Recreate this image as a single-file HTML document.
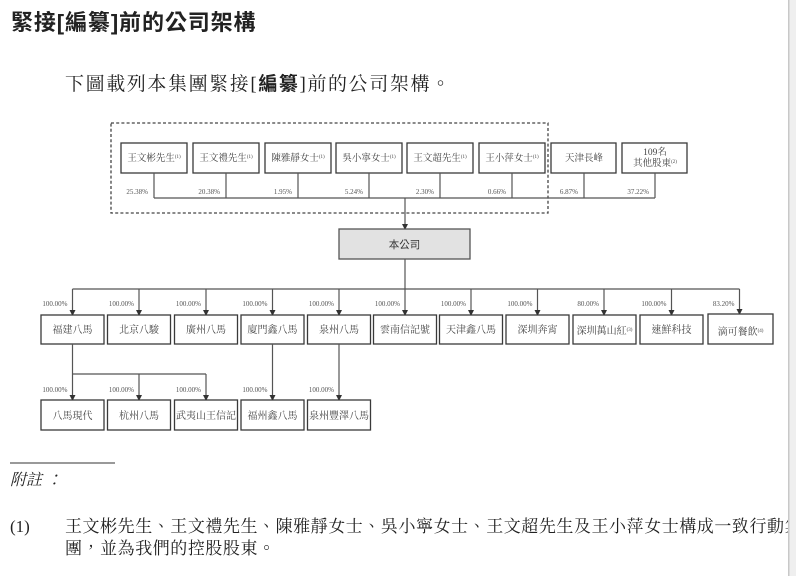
<!DOCTYPE html>
<html lang="zh-Hant"><head><meta charset="utf-8"><style>
html,body{margin:0;padding:0;background:#fff;}
svg{display:block;}
.bx{fill:#fff;stroke:#3a3a3a;stroke-width:1.3;}
.ln{stroke:#555;stroke-width:1.2;fill:none;}
.t{font-family:"Liberation Serif","Noto Serif CJK SC",serif;font-size:9.5px;fill:#444;text-anchor:middle;}
.t2{font-family:"Liberation Serif","Noto Serif CJK SC",serif;font-size:10px;fill:#444;text-anchor:middle;}
.p{font-family:"Liberation Serif",serif;font-size:7px;fill:#555;text-anchor:end;}
.s{font-size:5px;}
</style></head><body>
<svg width="796" height="576" viewBox="0 0 796 576" xmlns="http://www.w3.org/2000/svg">
<defs>
<marker id="ar" markerWidth="6" markerHeight="6" refX="5" refY="3" orient="auto" markerUnits="userSpaceOnUse">
<path d="M0,0 L6,3 L0,6 z" fill="#333"/>
</marker>
</defs>
<rect width="796" height="576" fill="#fff"/>

<!-- title -->
<text x="11" y="30" font-family="Liberation Sans,'Noto Sans CJK TC',sans-serif" font-weight="bold" font-size="22" letter-spacing="0.9" fill="#222">緊接[編纂]前的公司架構</text>
<text x="65" y="90" font-family="Liberation Serif,'Noto Serif CJK SC',serif" font-size="19" letter-spacing="1.6" fill="#222">下圖載列本集團緊接[<tspan font-weight="bold" font-family="Liberation Sans,'Noto Sans CJK TC',sans-serif">編纂</tspan>]前的公司架構。</text>

<!-- dashed group -->
<rect x="111" y="123" width="437" height="90" fill="none" stroke="#444" stroke-width="1.3" stroke-dasharray="3,2.2"/>

<!-- row 1 boxes -->
<rect class="bx" x="121" y="143" width="66" height="30"/>
<rect class="bx" x="193" y="143" width="66" height="30"/>
<rect class="bx" x="265" y="143" width="66" height="30"/>
<rect class="bx" x="336" y="143" width="66" height="30"/>
<rect class="bx" x="407" y="143" width="66" height="30"/>
<rect class="bx" x="479" y="143" width="66" height="30"/>
<rect class="bx" x="551" y="143" width="65" height="30"/>
<rect class="bx" x="622" y="143" width="65" height="30"/>
<text class="t" x="154" y="161">王文彬先生<tspan class="s" dy="-3">(1)</tspan></text>
<text class="t" x="226" y="161">王文禮先生<tspan class="s" dy="-3">(1)</tspan></text>
<text class="t" x="298" y="161">陳雅靜女士<tspan class="s" dy="-3">(1)</tspan></text>
<text class="t" x="369" y="161">吳小寧女士<tspan class="s" dy="-3">(1)</tspan></text>
<text class="t" x="440" y="161">王文超先生<tspan class="s" dy="-3">(1)</tspan></text>
<text class="t" x="512" y="161">王小萍女士<tspan class="s" dy="-3">(1)</tspan></text>
<text class="t" x="584" y="161">天津長峰</text>
<text class="t" x="655" y="155">109名</text>
<text class="t" x="655" y="166">其他股東<tspan class="s" dy="-3">(2)</tspan></text>

<!-- row1 connectors -->
<path class="ln" d="M154,173V198 M226,173V198 M298,173V198 M369,173V198 M440,173V198 M512,173V198 M584,173V198 M655,173V198 M154,198H655"/>
<text class="p" x="148" y="194">25.38%</text>
<text class="p" x="220" y="194">20.38%</text>
<text class="p" x="292" y="194">1.95%</text>
<text class="p" x="363" y="194">5.24%</text>
<text class="p" x="434" y="194">2.30%</text>
<text class="p" x="506" y="194">0.66%</text>
<text class="p" x="578" y="194">6.87%</text>
<text class="p" x="649" y="194">37.22%</text>

<line class="ln" x1="405" y1="198" x2="405" y2="229" marker-end="url(#ar)"/>

<!-- company -->
<rect x="339" y="229" width="131" height="30" fill="#e2e2e2" stroke="#555" stroke-width="1.3"/>
<text x="404.5" y="248" text-anchor="middle" font-family="Liberation Sans,'Noto Sans CJK TC',sans-serif" font-size="10.5" fill="#333">本公司</text>

<path class="ln" d="M405,259V289 M72.5,289H739.5"/>
<g class="ln">
<line x1="72.5" y1="289" x2="72.5" y2="315" marker-end="url(#ar)"/>
<line x1="139" y1="289" x2="139" y2="315" marker-end="url(#ar)"/>
<line x1="206" y1="289" x2="206" y2="315" marker-end="url(#ar)"/>
<line x1="272.5" y1="289" x2="272.5" y2="315" marker-end="url(#ar)"/>
<line x1="339" y1="289" x2="339" y2="315" marker-end="url(#ar)"/>
<line x1="405" y1="289" x2="405" y2="315" marker-end="url(#ar)"/>
<line x1="471" y1="289" x2="471" y2="315" marker-end="url(#ar)"/>
<line x1="537.5" y1="289" x2="537.5" y2="315" marker-end="url(#ar)"/>
<line x1="604" y1="289" x2="604" y2="315" marker-end="url(#ar)"/>
<line x1="671.5" y1="289" x2="671.5" y2="315" marker-end="url(#ar)"/>
<line x1="739.5" y1="289" x2="739.5" y2="314" marker-end="url(#ar)"/>
</g>
<text class="p" x="67.5" y="306">100.00%</text>
<text class="p" x="134" y="306">100.00%</text>
<text class="p" x="201" y="306">100.00%</text>
<text class="p" x="267.5" y="306">100.00%</text>
<text class="p" x="334" y="306">100.00%</text>
<text class="p" x="400" y="306">100.00%</text>
<text class="p" x="466" y="306">100.00%</text>
<text class="p" x="532.5" y="306">100.00%</text>
<text class="p" x="599" y="306">80.00%</text>
<text class="p" x="666.5" y="306">100.00%</text>
<text class="p" x="734.5" y="306">83.20%</text>

<!-- row 2 boxes -->
<rect class="bx" x="41" y="315" width="63" height="29"/>
<rect class="bx" x="107.5" y="315" width="63" height="29"/>
<rect class="bx" x="174.5" y="315" width="63" height="29"/>
<rect class="bx" x="241" y="315" width="63" height="29"/>
<rect class="bx" x="307.5" y="315" width="63" height="29"/>
<rect class="bx" x="373.5" y="315" width="63" height="29"/>
<rect class="bx" x="439.5" y="315" width="63" height="29"/>
<rect class="bx" x="506" y="315" width="63" height="29"/>
<rect class="bx" x="573" y="315" width="63" height="29"/>
<rect class="bx" x="640" y="315" width="63" height="29"/>
<rect class="bx" x="708" y="314" width="65" height="30"/>
<text class="t2" x="72.5" y="333">福建八馬</text>
<text class="t2" x="139" y="333">北京八駿</text>
<text class="t2" x="206" y="333">廣州八馬</text>
<text class="t2" x="272.5" y="333">廈門鑫八馬</text>
<text class="t2" x="339" y="333">泉州八馬</text>
<text class="t2" x="405" y="333">雲南信記號</text>
<text class="t2" x="471" y="333">天津鑫八馬</text>
<text class="t2" x="537.5" y="333">深圳奔宵</text>
<text class="t2" x="604.5" y="334">深圳萬山紅<tspan class="s" dy="-3">(3)</tspan></text>
<text class="t2" x="671.5" y="333">速鮮科技</text>
<text class="t2" x="740.5" y="335">滴可餐飲<tspan class="s" dy="-3">(4)</tspan></text>

<!-- row 3 connectors -->
<path class="ln" d="M72.5,344V374 M72.5,374H206"/>
<g class="ln">
<line x1="72.5" y1="374" x2="72.5" y2="400" marker-end="url(#ar)"/>
<line x1="139" y1="374" x2="139" y2="400" marker-end="url(#ar)"/>
<line x1="206" y1="374" x2="206" y2="400" marker-end="url(#ar)"/>
<line x1="272.5" y1="344" x2="272.5" y2="400" marker-end="url(#ar)"/>
<line x1="339" y1="344" x2="339" y2="400" marker-end="url(#ar)"/>
</g>
<text class="p" x="67.5" y="392">100.00%</text>
<text class="p" x="134" y="392">100.00%</text>
<text class="p" x="201" y="392">100.00%</text>
<text class="p" x="267.5" y="392">100.00%</text>
<text class="p" x="334" y="392">100.00%</text>

<rect class="bx" x="41" y="400" width="63" height="30"/>
<rect class="bx" x="107.5" y="400" width="63" height="30"/>
<rect class="bx" x="174.5" y="400" width="63" height="30"/>
<rect class="bx" x="241" y="400" width="63" height="30"/>
<rect class="bx" x="307.5" y="400" width="63" height="30"/>
<text class="t2" x="72.5" y="419">八馬現代</text>
<text class="t2" x="139" y="419">杭州八馬</text>
<text class="t2" x="206" y="419">武夷山王信記</text>
<text class="t2" x="272.5" y="419">福州鑫八馬</text>
<text class="t2" x="339" y="419">泉州豐澤八馬</text>

<!-- notes -->
<line x1="10" y1="463" x2="115" y2="463" stroke="#333" stroke-width="1"/>
<text x="10" y="485" font-family="Liberation Serif,'Noto Serif CJK SC',serif" font-style="italic" font-size="16" fill="#222">附註 ：</text>
<text x="10" y="532" font-family="Liberation Serif,serif" font-size="17" fill="#222">(1)</text>
<text x="65" y="532" font-family="Liberation Serif,'Noto Serif CJK SC',serif" font-size="17" letter-spacing="0.55" fill="#222">王文彬先生、王文禮先生、陳雅靜女士、吳小寧女士、王文超先生及王小萍女士構成一致行動集</text>
<text x="65" y="554" font-family="Liberation Serif,'Noto Serif CJK SC',serif" font-size="17" letter-spacing="0.55" fill="#222">團，並為我們的控股股東。</text>

<!-- right edge strip -->
<rect x="788" y="0" width="8" height="576" fill="#efefef"/>
<rect x="788" y="0" width="1.5" height="576" fill="#c8c8c8"/>
</svg>
</body></html>
